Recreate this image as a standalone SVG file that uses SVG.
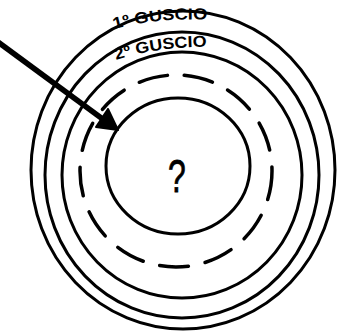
<svg xmlns="http://www.w3.org/2000/svg" width="337" height="332" viewBox="0 0 337 332">
<style>
.ring{fill:none;stroke:#000;stroke-width:3}
.dash{fill:none;stroke:#000;stroke-width:3.5;stroke-dasharray:29 17;stroke-linecap:round}
.lbl{font-family:"Liberation Sans",Arial,sans-serif;font-weight:bold;font-size:16px;fill:#000}
</style>
<defs>
<path id="p1" d="M 114 29 Q 160 17 212 20"/>
<path id="p2" d="M 116 60 Q 160 46 212 47"/>
</defs>
<rect width="337" height="332" fill="#fff"/>
<g id="shell1"><ellipse class="ring" cx="183" cy="170" rx="152" ry="159"/></g>
<g id="shell2"><ellipse class="ring" cx="182" cy="175" rx="137" ry="143"/></g>
<g id="shell3"><ellipse class="ring" cx="182" cy="175" rx="120" ry="123"/></g>
<g id="dashed"><ellipse class="dash" cx="176" cy="171" rx="96" ry="96"/></g>
<g id="core"><ellipse class="ring" cx="178" cy="166" rx="72" ry="68"/>
<text transform="translate(177,192) scale(0.68,1)" text-anchor="middle" font-family="Liberation Sans,Arial,sans-serif" font-size="47" fill="#000" stroke="#000" stroke-width="0.8">?</text></g>
<g id="label1"><text class="lbl"><textPath href="#p1" textLength="94" lengthAdjust="spacingAndGlyphs">1º GUSCIO</textPath></text></g>
<g id="label2"><text class="lbl"><textPath href="#p2" textLength="92" lengthAdjust="spacingAndGlyphs">2º GUSCIO</textPath></text></g>
<g id="connectors">
<line x1="-2" y1="42" x2="104" y2="120" stroke="#000" stroke-width="5.5"/>
<polygon points="118,130 108,109 96,127" fill="#000" stroke="#000" stroke-width="2" stroke-linejoin="round"/>
</g>
</svg>
